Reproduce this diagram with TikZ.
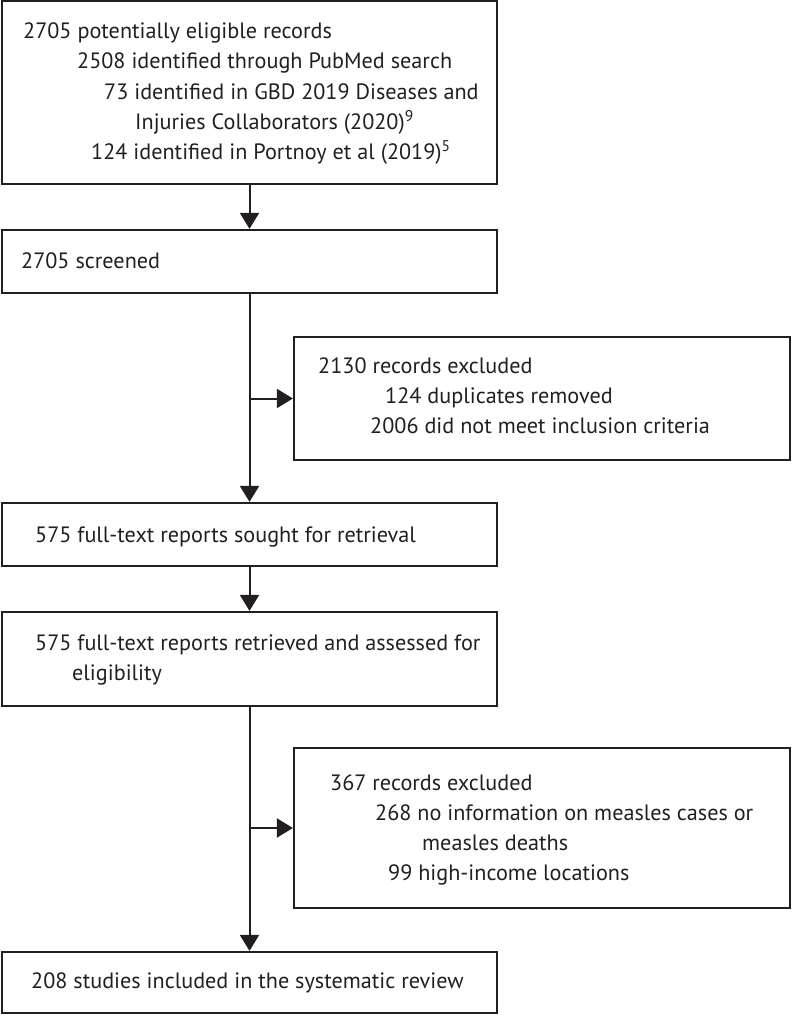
\documentclass[tikz,border=0pt]{standalone}
\usepackage{fontspec}
\setmainfont{PT Sans}
\usetikzlibrary{arrows.meta,calc}
\definecolor{ink}{RGB}{35,31,32}
\begin{document}
\begin{tikzpicture}[x=1pt,y=-1pt,
  box/.style={draw=ink,line width=2.2pt,rectangle,inner sep=0pt,anchor=center},
  txt/.style={inner sep=0pt,anchor=base west,text=ink,font=\fontsize{22.2}{30}\selectfont},
  arr/.style={draw=ink,line width=2pt,-{Triangle[width=19pt,length=16pt]}},
  ln/.style={draw=ink,line width=2pt}]
\useasboundingbox (0,0) rectangle (792,1015);
% boxes
\node[box,minimum width=495pt,minimum height=183pt] (b1) at (249.5,92.5) {};
\node[box,minimum width=495pt,minimum height=63pt] (b2) at (249.5,261.5) {};
\node[box,minimum width=496pt,minimum height=123pt] (e1) at (542,398.5) {};
\node[box,minimum width=495pt,minimum height=63pt] (b3) at (249.5,534.5) {};
\node[box,minimum width=495pt,minimum height=94pt] (b4) at (249.5,659) {};
\node[box,minimum width=496pt,minimum height=160pt] (e2) at (542,828) {};
\node[box,minimum width=495pt,minimum height=61pt] (b5) at (249.5,982.5) {};
% texts
\node[txt] (t1a) at (23,38) {2705 potentially eligible records};
\node[txt] (t1b) at (77,68) {2508 identified through PubMed search};
\node[txt] (t1c) at (104,99) {73 identified in GBD 2019 Diseases and};
\node[txt] (t1d) at (135,129) {Injuries Collaborators (2020)\textsuperscript{9}};
\node[txt] (t1e) at (91,159) {124 identified in Portnoy et al (2019)\textsuperscript{5}};
\node[txt] (t2) at (21,268) {2705 screened};
\node[txt] (te1a) at (318,373) {2130 records excluded};
\node[txt] (te1b) at (385,403) {124 duplicates removed};
\node[txt] (te1c) at (370,433) {2006 did not meet inclusion criteria};
\node[txt] (t3) at (35,542) {575 full-text reports sought for retrieval};
\node[txt] (t4a) at (35,650) {575 full-text reports retrieved and assessed for};
\node[txt] (t4b) at (72,680) {eligibility};
\node[txt] (te2a) at (330,790) {367 records excluded};
\node[txt] (te2b) at (375,820) {268 no information on measles cases or};
\node[txt] (te2c) at (422,850) {measles deaths};
\node[txt] (te2d) at (388,880) {99 high-income locations};
\node[txt] (t5) at (31,988) {208 studies included in the systematic review};
% connectors
\draw[arr] (b1.south) -- (b2.north);
\draw[arr] (b2.south) -- (b3.north);
\draw[arr] (b2.south |- e1.west) -- (e1.west);
\draw[arr] (b3.south) -- (b4.north);
\draw[arr] (b4.south) -- (b5.north);
\draw[arr] (b4.south |- e2.west) -- (e2.west);
\end{tikzpicture}
\end{document}
